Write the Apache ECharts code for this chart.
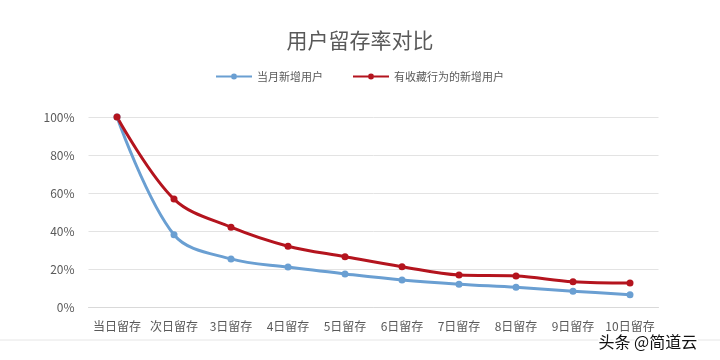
<!DOCTYPE html>
<html><head><meta charset="utf-8">
<script src="https://cdn.jsdelivr.net/npm/echarts@6/dist/echarts.min.js"></script>
<style>html,body{margin:0;padding:0;background:#fff}#c{width:720px;height:360px}</style>
</head><body><div id="c"></div>
<script>
var categories = ['当日留存','次日留存','3日留存','4日留存','5日留存','6日留存','7日留存','8日留存','9日留存','10日留存'];
var newUsers = [100, 38, 25.3, 21, 17.4, 14.2, 12, 10.4, 8.3, 6.5];
var favUsers = [100, 56.8, 42, 32, 26.5, 21.2, 16.8, 16.3, 13.3, 12.6];
var seriesNames = ['当月新增用户','有收藏行为的新增用户'];
var font = '"Microsoft YaHei","Noto Sans CJK SC",sans-serif';
var chart = echarts.init(document.getElementById('c'));
chart.setOption({
  backgroundColor:'#fff',
  animation:false,
  title:{text:'用户留存率对比',left:'center',top:25,textStyle:{fontFamily:font,fontSize:21,fontWeight:'normal',color:'#595959'}},
  legend:{top:66,left:'center',itemGap:30,itemWidth:36,itemHeight:10,
    icon:'path://M0,4h15v2H0z M21,4h15v2H21z M15,5a3,3 0 1,1 6,0a3,3 0 1,1 -6,0z',
    textStyle:{fontFamily:font,fontSize:11,color:'#595959'},data:seriesNames},
  grid:{left:88.5,right:61.5,top:117,bottom:53,containLabel:false},
  xAxis:{type:'category',data:categories,boundaryGap:true,
    axisLine:{show:true,lineStyle:{color:'#d9d9d9'}},axisTick:{show:false},
    axisLabel:{fontFamily:font,fontSize:12,color:'#595959',margin:13,interval:0}},
  yAxis:{type:'value',min:0,max:100,interval:20,
    axisLine:{show:false},axisTick:{show:false},
    axisLabel:{formatter:'{value}%',fontFamily:font,fontSize:12,color:'#595959',margin:14},
    splitLine:{lineStyle:{color:'#e3e3e3',width:1}}},
  series:[
    {name:seriesNames[0],type:'line',data:newUsers,smooth:0.35,symbol:'circle',symbolSize:7,
      lineStyle:{color:'#6a9fd2',width:3},itemStyle:{color:'#6a9fd2'}},
    {name:seriesNames[1],type:'line',data:favUsers,smooth:0.35,symbol:'circle',symbolSize:7,
      lineStyle:{color:'#b4141e',width:3},itemStyle:{color:'#b4141e'}}
  ],
  graphic:[
    {type:'line',shape:{x1:0,y1:340,x2:720,y2:340},style:{stroke:'#e6e6e6',lineWidth:1},silent:true},
    {type:'text',left:597,top:332,style:{text:'头条 @简道云',font:'16px '+font,fill:'#111',stroke:'#fff',lineWidth:3}}
  ]
});
</script></body></html>
